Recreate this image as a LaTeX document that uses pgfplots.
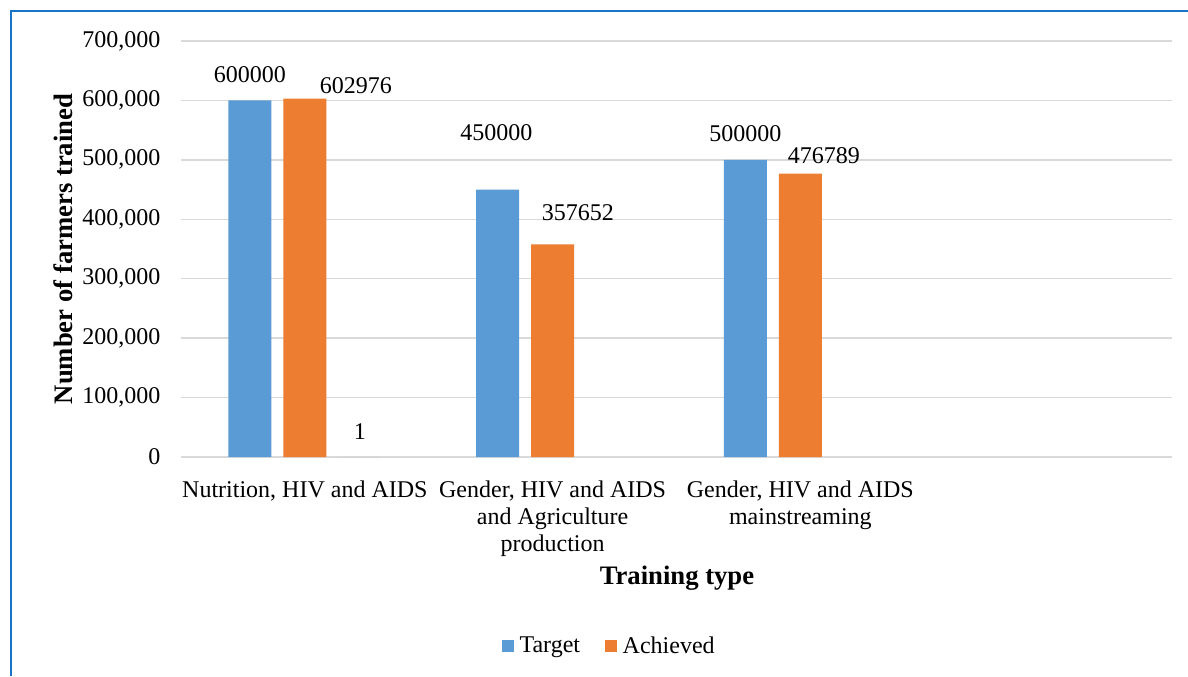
\documentclass[border=0pt]{standalone}
\usepackage{fontspec}
\setmainfont{Liberation Serif}
\usepackage{pgfplots}
\usepackage{pgfplotstable}
\pgfplotsset{compat=1.18}

\definecolor{tgtblue}{HTML}{5B9BD5}
\definecolor{achorange}{HTML}{ED7D31}
\definecolor{gridgray}{HTML}{D9D9D9}
\definecolor{framblue}{HTML}{1874C8}

% x, value, label shift (pt)
\pgfplotstableread{
x y dx dy
0 600000 0 19
1 450000 -1 42.5
2 500000 0 19.4
}\target
\pgfplotstableread{
x y dx dy
0 602976 38.3 9.5
1 357652 19 23.5
2 476789 17.7 13.2
}\achieved
\pgfplotstableread{
x y dx dy
0 1 0 18.75
}\extra

\begin{document}
\begin{tikzpicture}
\useasboundingbox (0,0) rectangle (891pt,507pt);
\draw[framblue, line width=1.7pt] (8.25pt,0) -- (8.25pt,498.75pt) -- (891pt,498.75pt);
\begin{axis}[
  at={(135.75pt,164.25pt)}, anchor=south west,
  scale only axis, width=743.25pt, height=312pt,
  font=\fontsize{18}{20.6}\selectfont,
  ymin=0, ymax=700000, ytick distance=100000,
  xmin=-0.5, xmax=3.5,
  xtick={0,1,2},
  xticklabels={{Nutrition, HIV and AIDS},
    {Gender, HIV and AIDS\\and Agriculture\\production},
    {Gender, HIV and AIDS\\mainstreaming}},
  xticklabel style={align=center, yshift=-14pt},
  scaled y ticks=false,
  yticklabel style={/pgf/number format/fixed, /pgf/number format/1000 sep={,}, xshift=-12pt},
  /pgf/number format/assume math mode=true,
  major tick length=0pt,
  axis line style={draw=none},
  ymajorgrids, grid style={gridgray, line width=1pt},
  ybar, bar width=32.25pt,
  nodes near coords={\pgfmathprintnumber[fixed, 1000 sep={}, precision=0]{\pgfplotspointmeta}},
  xlabel={\fontsize{20}{24}\selectfont\textbf{Training type}},
  xlabel style={at={(axis description cs:0.5005,-0.291)}, anchor=center},
  ylabel={\fontsize{20}{24}\selectfont\textbf{Number of farmers trained}},
  ylabel style={at={(axis description cs:-0.119,0.5)}, anchor=center, rotate=0},
  legend style={at={(axis description cs:0.434,-0.454)}, anchor=center, draw=none,
    legend columns=2, /tikz/every even column/.append style={column sep=15pt},
    nodes={inner xsep=4pt}},
  legend image code/.code={\fill[#1] (0pt,-4.5pt) rectangle (9pt,4.5pt);},
]
\addplot[fill=tgtblue, draw=none, bar shift=-41.25pt,
  visualization depends on={\thisrow{dx} \as \dx},
  visualization depends on={\thisrow{dy} \as \dy},
  every node near coord/.append style={anchor=center, xshift=\dx pt, yshift=\dy pt, black}]
  table[x=x, y=y] {\target};
\addlegendentry{Target}
\addplot[fill=achorange, draw=none, bar shift=0pt,
  visualization depends on={\thisrow{dx} \as \dx},
  visualization depends on={\thisrow{dy} \as \dy},
  every node near coord/.append style={anchor=center, xshift=\dx pt, yshift=\dy pt, black}]
  table[x=x, y=y] {\achieved};
\addlegendentry{Achieved}
\addplot[fill=gray!60, draw=none, bar shift=41.25pt, forget plot,
  visualization depends on={\thisrow{dx} \as \dx},
  visualization depends on={\thisrow{dy} \as \dy},
  every node near coord/.append style={anchor=center, xshift=\dx pt, yshift=\dy pt, black}]
  table[x=x, y=y] {\extra};
\end{axis}
\end{tikzpicture}
\end{document}
